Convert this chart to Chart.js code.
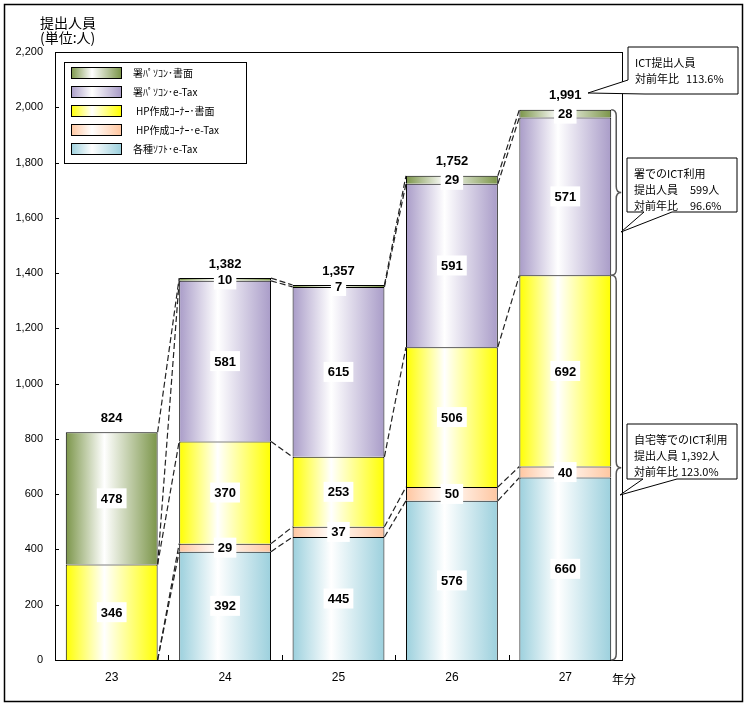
<!DOCTYPE html>
<html>
<head>
<meta charset="utf-8">
<script src="https://cdn.jsdelivr.net/npm/chart.js@4"></script>
<style>
  html, body { margin: 0; padding: 0; background: #fff; }
  canvas { display: block; }
</style>
</head>
<body>
<canvas id="chart" width="747" height="706" style="width:747px;height:706px"></canvas>
<script>
(function app() {

    // ---- data (bottom of stack first) ----
    const categories = ['23', '24', '25', '26', '27'];
    const seriesNames = ['各種ｿﾌﾄ･e-Tax', 'HP作成ｺｰﾅｰ･e-Tax', 'HP作成ｺｰﾅｰ･書面', '署ﾊﾟｿｺﾝ･e-Tax', '署ﾊﾟｿｺﾝ･書面'];
    const softETax    = [null, 392, 445, 576, 660];
    const hpETax      = [null,  29,  37,  50,  40];
    const hpPaper     = [346, 370, 253, 506, 692];
    const officeETax  = [null, 581, 615, 591, 571];
    const officePaper = [478,  10,   7,  29,  28];
    const totals      = [824, 1382, 1357, 1752, 1991];
    const seriesColors = ['#9CD0DD', '#FFC6A0', '#FFFF00', '#A99CC8', '#7B9549'];

    // callout texts
    const calloutTotal  = [['ICT提出人員', ''], ['対前年比', '113.6%']];
    const calloutOffice = [['署でのICT利用', ''], ['提出人員', '599人'], ['対前年比', '96.6%']];
    const calloutHome   = [['自宅等でのICT利用', ''], ['提出人員', '1,392人'], ['対前年比', '123.0%']];

    const seriesValues = [softETax, hpETax, hpPaper, officeETax, officePaper];
    const BAR_PCT = 0.81;
    const JP = "'Noto Sans CJK JP', sans-serif";
    const NUM = "'Liberation Sans', Arial, sans-serif";

    function fillGradient(ctx2d, x0, x1, color) {
        const g = ctx2d.createLinearGradient(x0, 0, x1, 0);
        g.addColorStop(0, color);
        g.addColorStop(0.42, '#ffffff');
        g.addColorStop(1, color);
        return g;
    }

    function barGradient(color) {
        return context => {
            const chart = context.chart;
            const xs = chart.scales.x;
            if (!xs || context.dataIndex === undefined) return color;
            const cx = xs.getPixelForValue(context.dataIndex);
            const half = xs.width / categories.length * BAR_PCT / 2;
            if (!isFinite(cx) || !isFinite(half) || half <= 0) return color;
            return fillGradient(chart.ctx, cx - half, cx + half, color);
        };
    }

    function cumulative(index, upTo) {
        let sum = 0;
        for (let s = 0; s <= upTo; s++) sum += seriesValues[s][index] || 0;
        return sum;
    }

    function drawCallout(c, box, wedge, lines, col2) {
        const [l, t, r, b] = box;
        c.save();
        c.beginPath();
        c.moveTo(l, t);
        c.lineTo(r, t);
        c.lineTo(r, b);
        if (wedge.leftY !== undefined) {
            c.lineTo(wedge.x2, b);
            c.lineTo(wedge.tipX, wedge.tipY);
            c.lineTo(l, wedge.leftY);
        } else {
            c.lineTo(wedge.x2, b);
            c.lineTo(wedge.tipX, wedge.tipY);
            c.lineTo(wedge.x1, b);
            c.lineTo(l, b);
        }
        c.closePath();
        c.fillStyle = '#fff';
        c.fill();
        c.strokeStyle = '#000';
        c.lineWidth = 1;
        c.stroke();
        c.fillStyle = '#000';
        c.font = '11px ' + JP;
        c.textBaseline = 'middle';
        c.textAlign = 'left';
        lines.forEach((ln, k) => {
            const y = t + 16 + k * 16;
            c.fillText(ln[0], l + 7, y);
            if (ln[1]) c.fillText(ln[1], col2, y);
        });
        c.restore();
    }

    function drawBrace(c, x, yTop, yBot) {
        const mid = (yTop + yBot) / 2;
        c.save();
        c.strokeStyle = '#555';
        c.lineWidth = 1.5;
        c.beginPath();
        c.moveTo(x, yTop);
        c.quadraticCurveTo(x + 5, yTop, x + 5, yTop + 6);
        c.lineTo(x + 5, mid - 6);
        c.quadraticCurveTo(x + 5, mid, x + 10, mid);
        c.quadraticCurveTo(x + 5, mid, x + 5, mid + 6);
        c.lineTo(x + 5, yBot - 6);
        c.quadraticCurveTo(x + 5, yBot, x, yBot);
        c.stroke();
        c.restore();
    }

    const decorations = {
        id: 'decorations',
        beforeDraw(chart) {
            const c = chart.ctx;
            c.save();
            c.fillStyle = '#fff';
            c.fillRect(0, 0, chart.width, chart.height);
            c.strokeStyle = '#000';
            c.lineWidth = 1.5;
            c.strokeRect(4.5, 4.5, 738, 697);
            c.restore();
        },
        beforeDatasetsDraw(chart) {
            const c = chart.ctx;
            const a = chart.chartArea;
            c.save();
            c.strokeStyle = '#000';
            c.lineWidth = 1;
            c.strokeRect(Math.round(a.left) + 0.5, Math.round(a.top) + 0.5,
                Math.round(a.right - a.left), Math.round(a.bottom - a.top));
            // y ticks (inside)
            const ys = chart.scales.y;
            ys.ticks.forEach(t => {
                const y = Math.round(ys.getPixelForValue(t.value)) + 0.5;
                c.beginPath();
                c.moveTo(a.left, y);
                c.lineTo(a.left + 4, y);
                c.stroke();
            });
            // x ticks at category boundaries
            const xs = chart.scales.x;
            for (let i = 0; i < categories.length - 1; i++) {
                const x = Math.round((xs.getPixelForValue(i) + xs.getPixelForValue(i + 1)) / 2) + 0.5;
                c.beginPath();
                c.moveTo(x, a.bottom);
                c.lineTo(x, a.bottom - 5);
                c.stroke();
            }
            c.restore();
        },
        afterDatasetsDraw(chart) {
            const c = chart.ctx;
            const xs = chart.scales.x;
            const ys = chart.scales.y;
            const ref = chart.getDatasetMeta(2).data;
            const half = ref[0].width / 2;

            // series lines between bars
            c.save();
            c.strokeStyle = '#222';
            c.lineWidth = 1.2;
            c.setLineDash([6, 3]);
            for (let i = 0; i < categories.length - 1; i++) {
                const xr = ref[i].x + half;
                const xl = ref[i + 1].x - half;
                for (let s = 0; s < seriesValues.length; s++) {
                    c.beginPath();
                    c.moveTo(xr, ys.getPixelForValue(cumulative(i, s)));
                    c.lineTo(xl, ys.getPixelForValue(cumulative(i + 1, s)));
                    c.stroke();
                }
            }
            c.restore();

            // segment labels
            c.save();
            c.font = 'bold 13px ' + NUM;
            c.textAlign = 'center';
            c.textBaseline = 'middle';
            chart.data.datasets.forEach((ds, d) => {
                const meta = chart.getDatasetMeta(d);
                ds.data.forEach((v, i) => {
                    if (v === null) return;
                    const el = meta.data[i];
                    const y = (el.y + el.base) / 2;
                    const txt = v.toLocaleString('en-US');
                    const w = c.measureText(txt).width + 8;
                    c.fillStyle = '#fff';
                    c.fillRect(el.x - w / 2, y - 10, w, 20);
                    c.fillStyle = '#000';
                    c.fillText(txt, el.x, y + 1);
                });
            });
            // totals
            totals.forEach((t, i) => {
                c.fillStyle = '#000';
                c.fillText(t.toLocaleString('en-US'), xs.getPixelForValue(i), ys.getPixelForValue(t) - 14);
            });
            c.restore();
        },
        afterDraw(chart) {
            const c = chart.ctx;
            const ys = chart.scales.y;
            const ref = chart.getDatasetMeta(2).data;
            const last = categories.length - 1;
            const barRight = ref[last].x + ref[last].width / 2;
            const homeTop = cumulative(last, 2);

            // braces
            drawBrace(c, barRight, ys.getPixelForValue(totals[last]), ys.getPixelForValue(homeTop));
            drawBrace(c, barRight, ys.getPixelForValue(homeTop), ys.getPixelForValue(0));

            // callouts
            drawCallout(c, [628, 47, 738, 94],
                { leftY: 80, x2: 645, tipX: 588, tipY: 93 }, calloutTotal, 686);
            drawCallout(c, [627, 158, 737, 212],
                { x1: 644, x2: 672, tipX: 621, tipY: 232 }, calloutOffice, 690);
            drawCallout(c, [627, 424, 737, 479],
                { x1: 643, x2: 677, tipX: 620, tipY: 495 }, calloutHome, 681);

            // legend (top series first)
            c.save();
            c.fillStyle = '#fff';
            c.fillRect(64, 62, 182, 101);
            c.strokeStyle = '#000';
            c.lineWidth = 1;
            c.strokeRect(64.5, 62.5, 182, 101);
            c.font = '10px ' + JP;
            c.textBaseline = 'middle';
            c.textAlign = 'left';
            for (let k = 0; k < seriesNames.length; k++) {
                const s = seriesNames.length - 1 - k;
                const y = 73 + k * 19;
                c.fillStyle = fillGradient(c, 71, 121, seriesColors[s]);
                c.fillRect(71, y - 5, 50, 11);
                c.strokeStyle = '#000';
                c.strokeRect(71.5, y - 5.5, 50, 11);
                c.fillStyle = '#000';
                const name = seriesNames[s];
                c.fillText(name, name.startsWith('HP') ? 136 : 133, y);
            }
            c.restore();

            // titles
            c.save();
            c.fillStyle = '#000';
            c.font = '14px ' + JP;
            c.textBaseline = 'middle';
            c.textAlign = 'left';
            c.fillText('提出人員', 40, 23);
            c.fillText('(単位:人)', 40, 38);
            c.font = '12px ' + JP;
            c.fillText('年分', 612, 679);
            c.restore();
        }
    };

    const datasets = seriesValues.map((vals, s) => ({
        label: seriesNames[s],
        data: vals,
        backgroundColor: barGradient(seriesColors[s]),
        borderColor: '#000',
        borderWidth: { top: 1, left: 1, right: 1, bottom: 0 },
        borderSkipped: false,
        barPercentage: BAR_PCT,
        categoryPercentage: 1
    }));

    new Chart(document.getElementById('chart'), {
        type: 'bar',
        data: { labels: categories, datasets: datasets },
        options: {
            responsive: false,
            devicePixelRatio: 1,
            animation: false,
            layout: { padding: { left: 0, top: 52, right: 125, bottom: 0 } },
            plugins: {
                legend: { display: false },
                tooltip: { enabled: false }
            },
            scales: {
                x: {
                    stacked: true,
                    grid: { display: false, drawTicks: false },
                    border: { display: true, color: '#000', width: 1 },
                    ticks: { color: '#000', font: { family: NUM, size: 12 }, padding: 10 },
                    afterFit: scale => { scale.height = 46; }
                },
                y: {
                    stacked: true,
                    min: 0,
                    max: 2200,
                    grid: { display: false, drawTicks: false },
                    border: { display: true, color: '#000', width: 1 },
                    ticks: {
                        stepSize: 200,
                        color: '#000',
                        font: { family: NUM, size: 11 },
                        padding: 12,
                        callback: v => v.toLocaleString('en-US')
                    },
                    afterFit: scale => { scale.width = 55; }
                }
            }
        },
        plugins: [decorations]
    });
})();
</script>
</body>
</html>
